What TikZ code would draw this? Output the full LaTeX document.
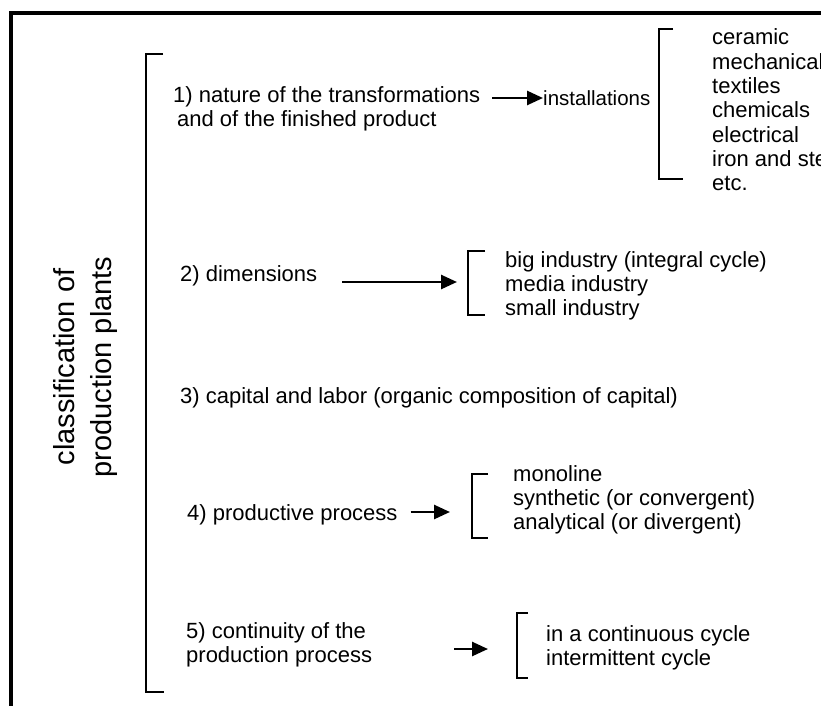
\documentclass[tikz,border=0pt]{standalone}
\usepackage{fontspec}
\setmainfont{Liberation Sans}
\usetikzlibrary{arrows.meta}
\begin{document}
\begin{tikzpicture}[x=1pt,y=-1pt,
	txt/.style={anchor=west,inner sep=0pt,align=left,font=\fontsize{22}{24.3}\selectfont},
	brk/.style={line width=2.2pt},
	arr/.style={line width=2.6pt,-{Triangle[length=16pt,width=14pt]}}]
	\useasboundingbox (0,0) rectangle (821,706);
	\clip (0,0) rectangle (821,706);
	% frame
	\draw[line width=4pt] (11,720) -- (11,13) -- (840,13);
	% title and main bracket
	\node[rotate=90,align=center,inner sep=0pt,font=\fontsize{29}{37}\selectfont] (cls) at (86,367) {classification of\\production plants};
	\draw[brk] (163,54) -| (146,692) -- (164,692);
	% items
	\node[txt] (nat) at (173,109) {1) nature of the transformations\\\hspace*{4pt}and of the finished product};
	\node[txt,font=\fontsize{20.5}{24}\selectfont] (inst) at (543,98) {installations};
	\node[txt] (l1) at (712,110) {ceramic\\mechanical\\textiles\\chemicals\\electrical\\iron and steel\\etc.};
	\node[txt] (dim) at (180,276) {2) dimensions};
	\node[txt] (l2) at (505,286) {big industry (integral cycle)\\media industry\\small industry};
	\node[txt] (cap) at (180,398) {3) capital and labor (organic composition of capital)};
	\node[txt] (proc) at (187,515) {4) productive process};
	\node[txt] (l4) at (513,500) {monoline\\synthetic (or convergent)\\analytical (or divergent)};
	\node[txt] (cont) at (186,645) {5) continuity of the\\production process};
	\node[txt] (l5) at (546,648) {in a continuous cycle\\intermittent cycle};
	% sub brackets
	\draw[brk] (673,29) -| (659,179) -- (683,179);
	\draw[brk] (485,251) -| (468,315) -- (485,315);
	\draw[brk] (488,474) -| (472,538) -- (488,538);
	\draw[brk] (528,613) -| (517,678) -- (528,678);
	% arrows
	\coordinate (b2) at (457,282);
	\coordinate (b4) at (450,512);
	\coordinate (b5) at (488,649);
	\draw[arr,shorten <=12pt] (nat.east |- inst.west) -- (inst.west);
	\draw[arr,shorten <=25pt] (dim.east |- b2) -- (b2);
	\draw[arr,shorten <=13pt] (proc.east |- b4) -- (b4);
	\draw[arr,shorten <=82pt] (cont.east |- b5) -- (b5);
\end{tikzpicture}
\end{document}
